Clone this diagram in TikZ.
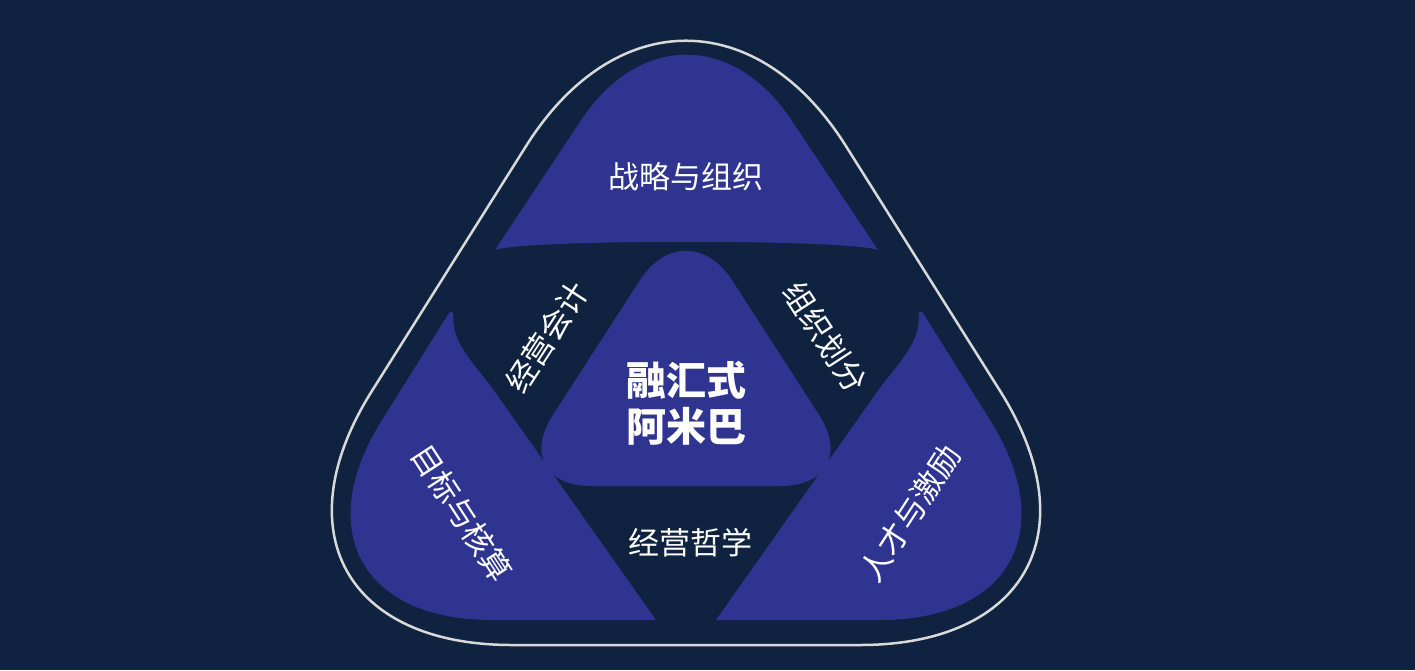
\documentclass[tikz,border=0pt]{standalone}
\usepackage{fontspec}
\newfontfamily\cjk{Noto Sans CJK SC}
\definecolor{bg}{HTML}{0F2340}
\definecolor{petal}{HTML}{2E3490}
\definecolor{rim}{HTML}{D9D9D9}
\tikzset{lbl/.style={text=white,font=\cjk\fontsize{31}{35}\selectfont,inner sep=0pt},
petalfill/.style={fill=petal}}
\begin{document}
\begin{tikzpicture}[x=1pt,y=-1pt]
\fill[bg] (0,0) rectangle (1415,670);
\useasboundingbox (0,0) rectangle (1415,670);
% outer rim
\draw[draw=rim,line width=2.5pt,rounded corners=300pt] (686,-108) -- (1160,645) -- (212,645) -- cycle;
% top petal
\fill[petalfill] (495,250) [rounded corners=190pt]-- (686,-38) [sharp corners]-- (878,250) .. controls (850,239) and (522,239) .. (495,250) -- cycle;
% left petal
\fill[petalfill] (656,620) [rounded corners=235pt]-- (257,620) [rounded corners=12pt]-- (454,305) [sharp corners] .. controls (452,340) and (470,360) .. (490,385) -- (656,620) -- cycle;
% right petal
\fill[petalfill] (716,620) [rounded corners=235pt]-- (1115,620) [rounded corners=12pt]-- (918,305) [sharp corners] .. controls (920,340) and (902,360) .. (882,385) -- (716,620) -- cycle;
% center
\fill[petalfill,rounded corners=85pt] (686,209) -- (865,486) -- (507,486) -- cycle;
\node[lbl] (a) at (686,177) {战略与组织};
\node[lbl,rotate=57] (b) at (547,337) {经营会计};
\node[lbl,rotate=-57] (c) at (825,337) {组织划分};
\node[lbl,rotate=-57] (d) at (462,513) {目标与核算};
\node[lbl,rotate=57] (e) at (910,513) {人才与激励};
\node[lbl] (f) at (690,543) {经营哲学};
\node[text=white,font=\cjk\bfseries\fontsize{40}{46}\selectfont,align=center,inner sep=0pt] (g) at (686,403) {融汇式\\阿米巴};
\end{tikzpicture}
\end{document}
